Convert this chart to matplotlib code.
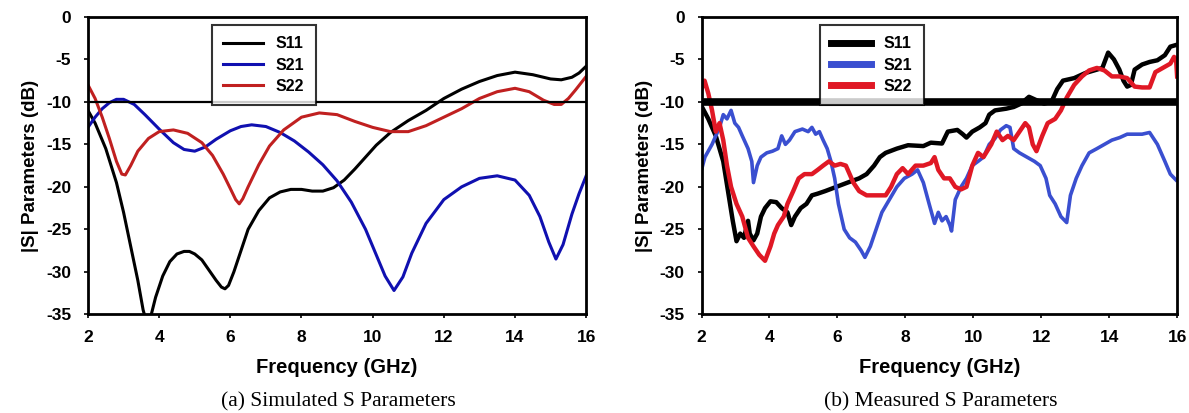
import matplotlib.pyplot as plt

# simulated S parameters (a)
sim_freq_s11 = [2.0, 2.2, 2.5, 2.8, 3.0, 3.2, 3.4, 3.55, 3.65, 3.75, 3.9, 4.1, 4.3, 4.5, 4.7, 4.85, 5.0, 5.2, 5.4, 5.6, 5.75, 5.85, 5.95, 6.1, 6.3, 6.5, 6.8, 7.1, 7.4, 7.7, 8.0, 8.3, 8.6, 8.9, 9.2, 9.5, 9.8, 10.1, 10.5, 11.0, 11.5, 12.0, 12.5, 13.0, 13.5, 14.0, 14.5, 15.0, 15.3, 15.6, 15.8, 16.0]
sim_s11 = [-11.0, -12.5, -15.5, -19.5, -23.0, -27.0, -31.0, -34.5, -36.0, -35.5, -33.0, -30.5, -28.8, -27.9, -27.6, -27.6, -27.9, -28.6, -29.8, -31.0, -31.8, -32.0, -31.6, -30.0, -27.5, -25.0, -22.8, -21.3, -20.6, -20.3, -20.3, -20.5, -20.5, -20.1, -19.2, -17.9, -16.5, -15.1, -13.6, -12.2, -11.0, -9.6, -8.5, -7.6, -6.9, -6.5, -6.8, -7.3, -7.4, -7.1, -6.6, -5.8]

sim_freq_s21 = [2.0, 2.2, 2.4, 2.6, 2.8, 3.0, 3.3, 3.6, 4.0, 4.4, 4.7, 5.0, 5.3, 5.6, 6.0, 6.3, 6.6, 7.0, 7.4, 7.8, 8.2, 8.6, 9.0, 9.4, 9.8, 10.1, 10.35, 10.6, 10.85, 11.1, 11.5, 12.0, 12.5, 13.0, 13.5, 14.0, 14.4, 14.7, 14.95, 15.15, 15.35, 15.6, 15.8, 16.0]
sim_s21 = [-13.0, -11.8, -10.8, -10.1, -9.7, -9.7, -10.3, -11.5, -13.2, -14.8, -15.6, -15.8, -15.3, -14.4, -13.4, -12.9, -12.7, -12.9, -13.6, -14.6, -15.9, -17.4, -19.3, -21.8, -25.0, -28.0, -30.5, -32.2, -30.6, -27.8, -24.3, -21.5, -20.0, -19.0, -18.7, -19.2, -21.0, -23.5, -26.5, -28.5, -26.8, -23.2, -20.8, -18.7]

sim_freq_s22 = [2.0, 2.2, 2.4, 2.6, 2.8, 2.95, 3.05, 3.2, 3.4, 3.7, 4.0, 4.4, 4.8, 5.2, 5.5, 5.8, 6.0, 6.15, 6.25, 6.35, 6.5, 6.8, 7.1, 7.5, 8.0, 8.5, 9.0, 9.5, 10.0, 10.5, 11.0, 11.5, 12.0, 12.5, 13.0, 13.5, 14.0, 14.4, 14.8, 15.1, 15.3, 15.5, 15.7, 16.0]
sim_s22 = [-8.0, -9.6, -11.8, -14.3, -17.0, -18.5, -18.6, -17.5, -15.8, -14.3, -13.5, -13.3, -13.7, -14.8, -16.3, -18.5, -20.2, -21.5, -22.0, -21.4, -20.0, -17.4, -15.2, -13.3, -11.8, -11.3, -11.5, -12.3, -13.0, -13.5, -13.5, -12.8, -11.8, -10.8, -9.6, -8.8, -8.4, -8.8, -9.8, -10.3, -10.3, -9.6, -8.6, -7.0]

# measured S parameters (b)
meas_freq_s11 = [2.0, 2.2, 2.42, 2.64, 2.8, 2.92, 3.03, 3.14, 3.25, 3.37, 3.42, 3.53, 3.64, 3.75, 3.87, 4.03, 4.2, 4.36, 4.53, 4.64, 4.75, 4.92, 5.09, 5.25, 5.42, 5.64, 5.97, 6.3, 6.64, 6.86, 7.08, 7.25, 7.42, 7.75, 8.08, 8.53, 8.75, 9.08, 9.25, 9.53, 9.69, 9.8, 9.97, 10.19, 10.36, 10.47, 10.64, 10.97, 11.19, 11.41, 11.64, 11.86, 12.08, 12.3, 12.47, 12.64, 12.97, 13.3, 13.64, 13.8, 13.97, 14.14, 14.3, 14.42, 14.53, 14.64, 14.75, 14.97, 15.19, 15.42, 15.64, 15.8, 15.97]
meas_s11 = [-10.5, -12.0, -14.0, -17.0, -21.0, -24.0, -26.4, -25.5, -26.0, -24.0, -25.5, -26.3, -25.5, -23.5, -22.5, -21.7, -21.8, -22.5, -23.0, -24.5, -23.5, -22.5, -22.0, -21.0, -20.8, -20.5, -20.0, -19.5, -19.0, -18.5, -17.5, -16.5, -16.0, -15.5, -15.1, -15.2, -14.8, -14.9, -13.5, -13.3, -13.8, -14.2, -13.5, -13.0, -12.5, -11.5, -11.0, -10.8, -10.6, -10.2, -9.4, -9.8, -10.2, -10.0, -8.5, -7.5, -7.2, -6.6, -6.2, -6.0, -4.2, -5.0, -6.2, -7.5, -8.2, -8.0, -6.2, -5.6, -5.3, -5.1, -4.5, -3.5, -3.3]

meas_freq_s21 = [2.0, 2.1, 2.31, 2.53, 2.64, 2.75, 2.87, 2.98, 3.09, 3.2, 3.37, 3.48, 3.53, 3.64, 3.75, 3.92, 4.09, 4.25, 4.36, 4.47, 4.59, 4.75, 4.97, 5.14, 5.25, 5.36, 5.47, 5.58, 5.7, 5.81, 5.92, 6.03, 6.2, 6.36, 6.53, 6.7, 6.81, 6.97, 7.14, 7.31, 7.53, 7.75, 7.97, 8.2, 8.36, 8.53, 8.7, 8.86, 8.97, 9.08, 9.2, 9.31, 9.36, 9.47, 9.64, 9.8, 9.97, 10.14, 10.3, 10.47, 10.64, 10.8, 10.97, 11.08, 11.19, 11.36, 11.58, 11.8, 11.97, 12.14, 12.25, 12.41, 12.58, 12.75, 12.86, 13.03, 13.2, 13.41, 13.64, 13.86, 14.08, 14.31, 14.53, 14.75, 14.97, 15.19, 15.42, 15.64, 15.8, 15.97]
meas_s21 = [-18.0, -16.5, -15.0, -13.0, -11.5, -12.0, -11.0, -12.5, -13.0, -14.0, -15.5, -17.0, -19.5, -17.5, -16.5, -16.0, -15.8, -15.5, -14.0, -15.0, -14.5, -13.5, -13.2, -13.5, -13.0, -13.8, -13.5, -14.5, -15.5, -17.0, -19.0, -22.0, -25.0, -26.0, -26.5, -27.5, -28.3, -27.0, -25.0, -23.0, -21.5, -20.0, -19.0, -18.5, -18.0, -19.5, -22.0, -24.3, -23.0, -24.0, -23.5, -24.5, -25.2, -21.5, -20.0, -19.0, -17.5, -17.0, -16.5, -15.0, -14.3, -13.3, -12.8, -13.0, -15.5, -16.0, -16.5, -17.0, -17.5, -19.0, -21.0, -22.0, -23.5, -24.2, -21.0, -19.0, -17.5, -16.0, -15.5, -15.0, -14.5, -14.2, -13.8, -13.8, -13.8, -13.6, -15.0, -17.0, -18.5, -19.2]

meas_freq_s22 = [2.0, 2.09, 2.2, 2.31, 2.42, 2.53, 2.64, 2.75, 2.87, 3.03, 3.2, 3.37, 3.53, 3.7, 3.87, 4.03, 4.14, 4.25, 4.42, 4.53, 4.7, 4.86, 5.03, 5.25, 5.42, 5.58, 5.75, 5.92, 6.09, 6.25, 6.36, 6.47, 6.64, 6.86, 7.08, 7.42, 7.58, 7.75, 7.92, 8.08, 8.3, 8.53, 8.75, 8.86, 8.97, 9.14, 9.31, 9.47, 9.64, 9.8, 9.97, 10.14, 10.3, 10.53, 10.69, 10.86, 11.02, 11.19, 11.36, 11.53, 11.64, 11.75, 11.86, 12.03, 12.19, 12.41, 12.58, 12.75, 12.97, 13.2, 13.41, 13.64, 13.86, 14.08, 14.3, 14.53, 14.75, 14.97, 15.19, 15.36, 15.58, 15.8, 15.91, 15.97, 16.0]
meas_s22 = [-8.5, -7.5, -9.0, -11.0, -13.5, -12.5, -14.5, -17.5, -20.0, -22.0, -23.5, -26.0, -27.0, -28.0, -28.7, -27.0, -25.5, -24.5, -23.5, -22.0, -20.5, -19.0, -18.5, -18.5, -18.0, -17.5, -17.0, -17.5, -17.3, -17.5, -18.5, -19.5, -20.5, -21.0, -21.0, -21.0, -20.0, -18.5, -17.8, -18.5, -17.5, -17.5, -17.2, -16.5, -18.0, -19.0, -19.0, -20.0, -20.3, -20.0, -17.5, -16.0, -16.5, -15.0, -13.5, -14.5, -14.0, -14.5, -13.5, -12.5, -13.0, -15.0, -15.8, -14.0, -12.5, -12.0, -11.0, -9.5, -8.0, -7.0, -6.3, -6.0, -6.3, -7.0, -7.0, -7.2, -8.2, -8.3, -8.3, -6.5, -6.0, -5.5, -4.7, -5.0, -7.0]

y_ticks = [0, -5, -10, -15, -20, -25, -30, -35]
x_ticks = [2, 4, 6, 8, 10, 12, 14, 16]
labels = ["S11", "S21", "S22"]
colors_sim = ["black", "#1010b0", "#c02020"]
colors_meas = ["black", "#3a4fd0", "#e01825"]

bold = {"family": "Liberation Sans", "weight": "bold"}


def style_axes(ax):
    ax.set_xlim(2, 16)
    ax.set_ylim(-35, 0)
    ax.set_xticks(x_ticks)
    ax.set_yticks(y_ticks)
    ax.set_xticklabels([str(t) for t in x_ticks], fontdict=bold, fontsize=12.5)
    ax.set_yticklabels([str(t) for t in y_ticks], fontdict=bold, fontsize=12.5)
    ax.tick_params(axis="x", direction="out", length=3, width=1.2, pad=8)
    ax.tick_params(axis="y", direction="out", length=3, width=1.2, pad=9)
    for s in ax.spines.values():
        s.set_linewidth(2)
    ax.set_xlabel("Frequency (GHz)", fontdict=bold, fontsize=14.5, labelpad=10)
    ax.set_ylabel("|S| Parameters (dB)", fontdict=bold, fontsize=13.5, labelpad=5)


def add_legend(ax, thick=None):
    leg = ax.legend(loc="upper left", bbox_to_anchor=(0.249, 0.973), borderaxespad=0,
                    fancybox=False, edgecolor="black", handlelength=2.5, borderpad=0.7,
                    labelspacing=0.4, handletextpad=0.8,
                    prop={"family": "Liberation Sans", "weight": "bold", "size": 11.5})
    leg.get_frame().set_linewidth(1.5)
    if thick:
        for line in leg.get_lines():
            line.set_linewidth(thick)
    return leg


fig = plt.figure(figsize=(11.89, 4.13), dpi=100)
ax1 = fig.add_axes([0.074, 0.239, 0.419, 0.72])
ax2 = fig.add_axes([0.590, 0.239, 0.400, 0.72])

# (a) simulated
ax1.plot(sim_freq_s11, sim_s11, color=colors_sim[0], lw=2.2, label=labels[0])
ax1.plot(sim_freq_s21, sim_s21, color=colors_sim[1], lw=2.2, label=labels[1])
ax1.plot(sim_freq_s22, sim_s22, color=colors_sim[2], lw=2.2, label=labels[2])
ax1.axhline(-10, color="black", lw=1.6)
style_axes(ax1)
add_legend(ax1)

# (b) measured
ax2.plot(meas_freq_s11, meas_s11, color=colors_meas[0], lw=3.2, label=labels[0])
ax2.plot(meas_freq_s21, meas_s21, color=colors_meas[1], lw=2.6, label=labels[1])
ax2.plot(meas_freq_s22, meas_s22, color=colors_meas[2], lw=3.2, label=labels[2])
ax2.axhline(-10, color="black", lw=5.5)
style_axes(ax2)
add_legend(ax2, thick=5)

fig.text(0.285, 0.028, "(a) Simulated S Parameters", ha="center", va="center",
         family="Liberation Serif", fontsize=15.5)
fig.text(0.791, 0.028, "(b) Measured S Parameters", ha="center", va="center",
         family="Liberation Serif", fontsize=15.5)

fig.savefig("out.png", dpi=100)
